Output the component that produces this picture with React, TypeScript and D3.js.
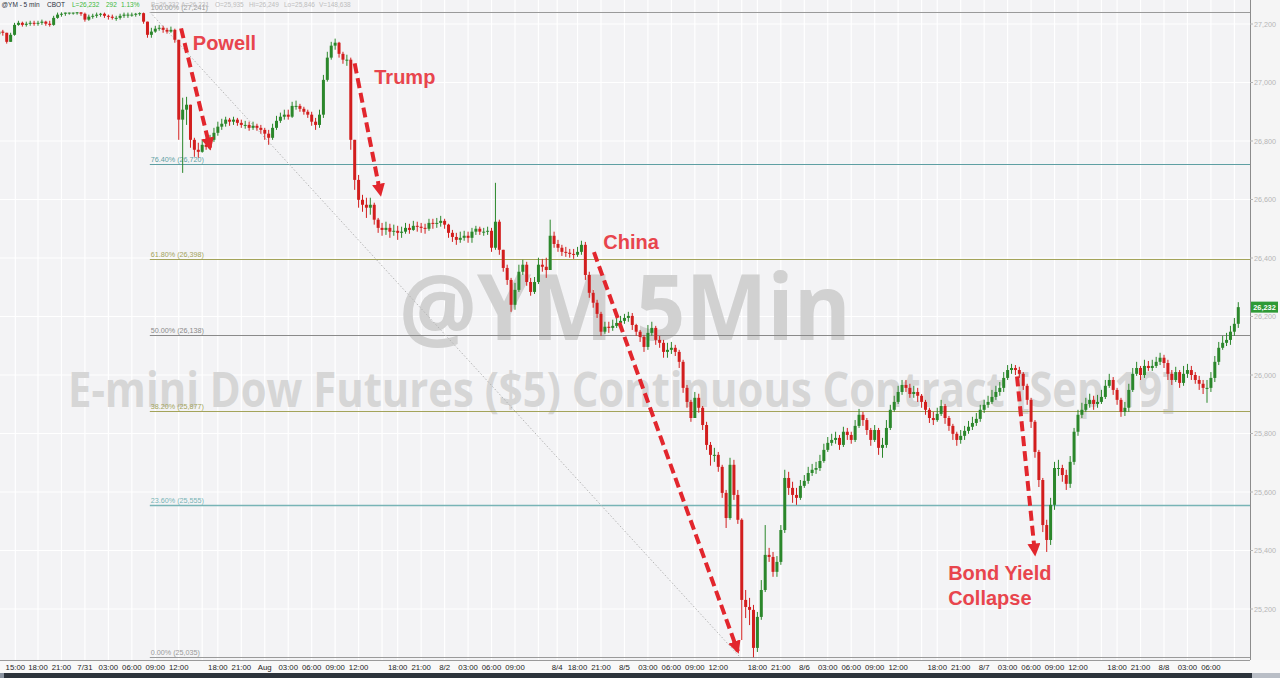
import React from 'react';
import * as d3 from 'd3';

// ---------- DATA (30-minute bars) ----------
const barStartHour = -5; // trading hours relative to 7/30 18:00 mark
const barStepHours = 0.5;
const firstOpen = 27165;

const closes = [
  27174, 27170, 27139, 27163, 27197, 27204, 27197, 27201, 27204, 27201,
  27204, 27208, 27201, 27197, 27221, 27232, 27235, 27239, 27239, 27239,
  27240, 27235, 27215, 27225, 27228, 27232, 27235, 27228, 27225, 27221,
  27221, 27228, 27232, 27232, 27232, 27235, 27237, 27208, 27163, 27174,
  27184, 27187, 27180, 27174, 27180, 27146, 26873, 26907, 26924, 26804,
  26770, 26763, 26787, 26780, 26804, 26828, 26849, 26859, 26873, 26866,
  26873, 26862, 26855, 26855, 26845, 26852, 26845, 26838, 26825, 26811,
  26845, 26869, 26883, 26890, 26883, 26920, 26920, 26910, 26900, 26890,
  26866, 26855, 26890, 27009, 27085, 27126, 27136, 27098, 27078, 27078,
  26804, 26667, 26599, 26582, 26572, 26582, 26531, 26503, 26496, 26503,
  26490, 26493, 26486, 26490, 26503, 26496, 26510, 26507, 26503, 26500,
  26520, 26517, 26520, 26527, 26514, 26486, 26472, 26462, 26469, 26476,
  26469, 26490, 26500, 26490, 26490, 26493, 26435, 26524, 26428, 26366,
  26325, 26240, 26291, 26353, 26377, 26318, 26284, 26318, 26377, 26370,
  26359, 26476, 26448, 26435, 26421, 26418, 26414, 26411, 26421, 26445,
  26342, 26281, 26247, 26209, 26148, 26165, 26161, 26168, 26178, 26185,
  26195, 26202, 26171, 26148, 26130, 26096, 26144, 26161, 26120, 26110,
  26079, 26086, 26093, 26079, 26045, 25956, 25908, 25853, 25922, 25888,
  25829, 25761, 25727, 25727, 25686, 25597, 25511, 25693, 25590, 25505,
  25231, 25207, 25197, 25067, 25173, 25265, 25385, 25378, 25327, 25361,
  25470, 25648, 25614, 25590, 25580, 25621, 25638, 25665, 25676, 25682,
  25706, 25744, 25768, 25778, 25785, 25761, 25806, 25795, 25778, 25826,
  25864, 25846, 25812, 25778, 25812, 25751, 25761, 25819, 25881, 25908,
  25942, 25966, 25956, 25935, 25942, 25929, 25908, 25881, 25853, 25846,
  25867, 25894, 25853, 25826, 25799, 25778, 25792, 25809, 25823, 25836,
  25850, 25881, 25898, 25908, 25925, 25942, 25956, 25990, 26017, 26024,
  26017, 26004, 25963, 25915, 25840, 25737, 25641, 25487, 25436, 25556,
  25682, 25682, 25658, 25628, 25703, 25806, 25864, 25881, 25901, 25915,
  25901, 25908, 25925, 25963, 25983, 25949, 25915, 25874, 25888, 25949,
  26004, 26024, 26000, 26031, 26024, 26031, 26045, 26059, 26041, 26004,
  25983, 26010, 25973, 26004, 26017, 26000, 25983, 25970, 25956, 25956,
  25990, 26045, 26093, 26110, 26120, 26148, 26175, 26232,
];

const highs = [
  27187, 27180, 27170, 27170, 27204, 27211, 27208, 27208, 27211, 27211,
  27211, 27215, 27211, 27211, 27228, 27239, 27240, 27238, 27238, 27238,
  27241, 27240, 27239, 27232, 27235, 27239, 27238, 27239, 27232, 27232,
  27228, 27235, 27239, 27239, 27239, 27238, 27240, 27239, 27208, 27187,
  27194, 27197, 27194, 27187, 27191, 27184, 27129, 26948, 26951, 26924,
  26811, 26794, 26804, 26804, 26821, 26845, 26866, 26876, 26883, 26879,
  26883, 26879, 26873, 26869, 26866, 26866, 26859, 26855, 26845, 26838,
  26859, 26886, 26897, 26907, 26907, 26934, 26938, 26927, 26917, 26907,
  26900, 26879, 26907, 27026, 27105, 27139, 27150, 27139, 27105, 27095,
  27085, 26787, 26684, 26616, 26606, 26606, 26589, 26537, 26520, 26524,
  26517, 26514, 26510, 26507, 26520, 26517, 26527, 26524, 26520, 26517,
  26534, 26534, 26537, 26544, 26534, 26517, 26496, 26486, 26490, 26493,
  26490, 26503, 26510, 26507, 26503, 26507, 26503, 26657, 26531, 26428,
  26377, 26332, 26315, 26377, 26394, 26387, 26332, 26335, 26401, 26397,
  26401, 26531, 26490, 26462, 26445, 26438, 26431, 26431, 26438, 26459,
  26455, 26353, 26291, 26257, 26216, 26182, 26182, 26189, 26195, 26202,
  26209, 26216, 26212, 26175, 26154, 26137, 26171, 26182, 26168, 26134,
  26120, 26110, 26113, 26103, 26086, 26052, 25966, 25915, 25942, 25936,
  25894, 25840, 25771, 25751, 25737, 25693, 25607, 25717, 25710, 25607,
  25510, 25265, 25238, 25214, 25190, 25299, 25487, 25409, 25395, 25381,
  25487, 25676, 25669, 25635, 25614, 25641, 25658, 25686, 25696, 25703,
  25727, 25765, 25788, 25799, 25806, 25795, 25823, 25819, 25806, 25846,
  25884, 25874, 25853, 25819, 25829, 25819, 25785, 25846, 25898, 25929,
  25963, 25983, 25983, 25970, 25963, 25956, 25935, 25915, 25888, 25874,
  25888, 25915, 25901, 25860, 25833, 25806, 25812, 25826, 25843, 25857,
  25870, 25898, 25915, 25929, 25949, 25963, 25976, 26010, 26034, 26038,
  26034, 26028, 26010, 25970, 25922, 25846, 25744, 25648, 25505, 25580,
  25703, 25710, 25693, 25676, 25723, 25819, 25881, 25905, 25922, 25936,
  25929, 25932, 25949, 25983, 26004, 25993, 25956, 25922, 25908, 25970,
  26024, 26045, 26031, 26052, 26048, 26052, 26062, 26076, 26069, 26052,
  26017, 26028, 26017, 26031, 26038, 26031, 26010, 25997, 25983, 25983,
  26010, 26065, 26113, 26134, 26144, 26168, 26195, 26249,
];

const lows = [
  27160, 27160, 27133, 27139, 27160, 27194, 27191, 27191, 27194, 27194,
  27194, 27197, 27194, 27191, 27194, 27218, 27225, 27228, 27232, 27232,
  27232, 27228, 27208, 27211, 27218, 27221, 27225, 27221, 27215, 27215,
  27211, 27215, 27221, 27221, 27225, 27225, 27228, 27201, 27153, 27153,
  27170, 27177, 27170, 27167, 27170, 27136, 26804, 26691, 26855, 26777,
  26746, 26743, 26760, 26770, 26770, 26797, 26818, 26838, 26849, 26852,
  26855, 26852, 26845, 26842, 26835, 26838, 26835, 26825, 26804, 26787,
  26804, 26838, 26862, 26873, 26873, 26879, 26907, 26900, 26890, 26879,
  26852, 26838, 26845, 26879, 27003, 27078, 27112, 27085, 27064, 27057,
  26770, 26633, 26572, 26558, 26537, 26548, 26514, 26486, 26476, 26479,
  26469, 26476, 26462, 26469, 26483, 26483, 26493, 26490, 26486, 26483,
  26493, 26500, 26503, 26507, 26500, 26469, 26455, 26445, 26452, 26459,
  26452, 26452, 26479, 26479, 26476, 26479, 26421, 26428, 26411, 26353,
  26308, 26216, 26223, 26284, 26342, 26305, 26271, 26277, 26311, 26353,
  26332, 26359, 26435, 26421, 26407, 26404, 26401, 26397, 26404, 26411,
  26325, 26264, 26230, 26195, 26134, 26141, 26144, 26151, 26161, 26168,
  26175, 26182, 26154, 26134, 26113, 26079, 26086, 26134, 26103, 26093,
  26059, 26059, 26072, 26065, 26024, 25939, 25888, 25840, 25853, 25871,
  25812, 25744, 25690, 25703, 25669, 25580, 25477, 25505, 25573, 25491,
  25094, 25169, 25145, 25035, 25053, 25163, 25258, 25361, 25310, 25310,
  25351, 25460, 25590, 25563, 25556, 25573, 25614, 25628, 25655, 25662,
  25672, 25700, 25737, 25758, 25765, 25744, 25754, 25778, 25765, 25771,
  25819, 25826, 25795, 25758, 25771, 25727, 25717, 25751, 25812, 25874,
  25901, 25932, 25942, 25922, 25922, 25908, 25888, 25864, 25836, 25829,
  25840, 25860, 25833, 25809, 25778, 25758, 25765, 25778, 25799, 25812,
  25826, 25840, 25870, 25888, 25901, 25915, 25929, 25942, 25983, 26004,
  26000, 25990, 25949, 25898, 25819, 25717, 25617, 25463, 25395, 25419,
  25539, 25655, 25635, 25607, 25614, 25693, 25792, 25853, 25874, 25888,
  25881, 25888, 25901, 25918, 25956, 25932, 25898, 25857, 25860, 25874,
  25942, 25997, 25983, 25990, 26014, 26014, 26024, 26034, 26024, 25983,
  25966, 25976, 25956, 25963, 25990, 25983, 25970, 25949, 25935, 25905,
  25942, 25976, 26034, 26086, 26099, 26103, 26134, 26161,
];

const priceTicks = [25200, 25400, 25600, 25800, 26000, 26200, 26400, 26600, 26800, 27000, 27200];

// time ticks: [trading hour position, label]  ("" = gridline only)
const timeTicks: [number, string][] = [
  [-2.9, '15:00'], [0, '18:00'], [3, '21:00'], [6, '7/31'], [9, '03:00'], [12, '06:00'], [15, '09:00'], [18, '12:00'], [21, ''],
  [23, '18:00'], [26, '21:00'], [29, 'Aug'], [32, '03:00'], [35, '06:00'], [38, '09:00'], [41, '12:00'], [44, ''],
  [46, '18:00'], [49, '21:00'], [52, '8/2'], [55, '03:00'], [58, '06:00'], [61, '09:00'], [64, ''], [66.4, '8/4'],
  [69, '18:00'], [72, '21:00'], [75, '8/5'], [78, '03:00'], [81, '06:00'], [84, '09:00'], [87, '12:00'], [90, ''],
  [92, '18:00'], [95, '21:00'], [98, '8/6'], [101, '03:00'], [104, '06:00'], [107, '09:00'], [110, '12:00'], [113, ''],
  [115, '18:00'], [118, '21:00'], [121, '8/7'], [124, '03:00'], [127, '06:00'], [130, '09:00'], [133, '12:00'], [136, ''],
  [138, '18:00'], [141, '21:00'], [144, '8/8'], [147, '03:00'], [150, '06:00'], [153, ''],
];

const fibPercents = ['100.00%', '76.40%', '61.80%', '50.00%', '38.20%', '23.60%', '0.00%'];
const fibValues = [27241, 26720, 26398, 26138, 25877, 25555, 25035];
const fibAnchorHours = [14.3, 89.8];

const lastPrice = 26232;

const annotationTexts = ['Powell', 'Trump', 'China', 'Bond Yield', 'Collapse'];
const annotationHours = [19.8, 43.0, 72.3, 116.4, 116.4];
const annotationPrices = [27111, 26995, 26431, 25299, 25214];

// arrows: [startHour, startPrice, endHour, endPrice]
const arrows: [number, number, number, number][] = [
  [18.3, 27185, 22.0, 26776],
  [40.5, 27065, 43.8, 26618],
  [71.1, 26420, 89.5, 25055],
  [125.2, 25995, 127.5, 25388],
];

const headerParts = [
  { text: '@YM - 5 min', kind: 'sym' },
  { text: 'CBOT', kind: 'sym' },
  { text: 'L=26,232', kind: 'up' },
  { text: '292', kind: 'up' },
  { text: '1.13%', kind: 'up' },
  { text: 'B=26,232', kind: 'mute' },
  { text: 'A=26,231', kind: 'mute' },
  { text: 'O=25,935', kind: 'mute' },
  { text: 'Hi=26,249', kind: 'mute' },
  { text: 'Lo=25,846', kind: 'mute' },
  { text: 'V=148,638', kind: 'mute' },
];

// ---------- COMPONENT ----------
const W = 1280;
const H = 678;
const PLOT_R = 1250;
const PLOT_B = 660;
const FONT = '"Liberation Sans", Arial, sans-serif';

const fibColors: Record<string, string> = {
  '100.00%': '#9a9a9a',
  '76.40%': '#5e9fa3',
  '61.80%': '#a3a35a',
  '50.00%': '#8a8a8a',
  '38.20%': '#a3a35a',
  '23.60%': '#78b4b6',
  '0.00%': '#9a9a9a',
};

export default function App() {
  const x = d3.scaleLinear().domain([0, 144]).range([38, 1164]);
  const y = d3.scaleLinear().domain([26000, 27200]).range([375, 24]);

  const bars = closes.map((c, i) => {
    const o = i === 0 ? firstOpen : closes[i - 1];
    const h = Math.max(highs[i], o, c);
    const l = Math.min(lows[i], o, c);
    const t = barStartHour + i * barStepHours;
    return { o, h, l, c, t, up: c >= o };
  });

  const green = '#2b872b';
  const red = '#d21e1e';
  const redText = '#e8454d';
  const arrowRed = '#e2262d';

  const fibX0 = x(fibAnchorHours[0]);

  const headerX = [1.5, 47, 72, 106, 121, 151, 181, 215, 249, 284, 319];
  const headerColor: Record<string, string> = { sym: '#2a3140', up: '#3cb83c', mute: '#bdbdbd' };

  return (
    <div style={{ width: W, height: H, overflow: 'hidden' }}>
      <style>{`body{margin:0;padding:0;}`}</style>
      <svg width={W} height={H} style={{ display: 'block', fontFamily: FONT }}>
        <defs>
          <clipPath id="plotClip">
            <rect x={0} y={0} width={PLOT_R} height={PLOT_B} />
          </clipPath>
          <marker id="arrowHead" viewBox="0 0 10 10" refX="8" refY="5" markerWidth="13" markerHeight="13"
            markerUnits="userSpaceOnUse" orient="auto">
            <path d="M0,0 L10,5 L0,10 z" fill={arrowRed} />
          </marker>
        </defs>

        {/* background */}
        <rect x={0} y={0} width={W} height={H} fill="#f3f3f5" />
        <rect x={PLOT_R} y={0} width={W - PLOT_R} height={PLOT_B} fill="#f5f5f5" />

        {/* grid */}
        <g clipPath="url(#plotClip)">
          {timeTicks.map(([t], i) => (
            <line key={'vg' + i} x1={x(t)} x2={x(t)} y1={0} y2={PLOT_B} stroke="#ffffff" strokeWidth={1.2} />
          ))}
          {priceTicks.map((p, i) => (
            <line key={'hg' + i} x1={0} x2={PLOT_R} y1={y(p)} y2={y(p)} stroke="#ffffff" strokeWidth={1.2} />
          ))}
        </g>

        {/* watermark */}
        <text x={625} y={340} textAnchor="middle" fontFamily='"Open Sans", "DejaVu Sans", sans-serif'
          fontWeight={700} fontSize={92} fill="#d1d1d1" textLength={452} lengthAdjust="spacingAndGlyphs">
          @YM 5Min
        </text>
        <text x={622} y={407} textAnchor="middle" fontFamily='"Open Sans", "DejaVu Sans", sans-serif'
          fontWeight={700} fontSize={48} fill="#d6d6d6" textLength={1108} lengthAdjust="spacingAndGlyphs">
          E-mini Dow Futures ($5) Continuous Contract [Sep 19]
        </text>

        {/* fib levels */}
        <g clipPath="url(#plotClip)">
          {fibValues.map((v, i) => {
            const col = fibColors[fibPercents[i]];
            const yy = Math.round(y(v)) + 0.5;
            return (
              <g key={'fib' + i}>
                <line x1={fibX0} x2={PLOT_R} y1={yy} y2={yy} stroke={col} strokeWidth={i === 5 ? 1.6 : 1.1} />
                <text x={fibX0 + 1} y={yy - 2.5} fontSize={7.2} fill={col}>
                  {`${fibPercents[i]} (${d3.format(',')(v)})`}
                </text>
              </g>
            );
          })}
          <line x1={x(fibAnchorHours[0])} y1={y(fibValues[0])} x2={x(fibAnchorHours[1])}
            y2={y(fibValues[fibValues.length - 1])} stroke="#b5b5b5" strokeWidth={1} strokeDasharray="1.5 2" />
        </g>

        {/* candles */}
        <g clipPath="url(#plotClip)">
          {bars.map((b, i) => {
            const cx = x(b.t);
            const col = b.up ? green : red;
            const yTop = y(Math.max(b.o, b.c));
            const yBot = y(Math.min(b.o, b.c));
            return (
              <g key={'bar' + i}>
                <line x1={cx} x2={cx} y1={y(b.h)} y2={y(b.l)} stroke={col} strokeWidth={1} />
                <rect x={cx - 1.5} y={yTop} width={3} height={Math.max(1, yBot - yTop)} fill={col} />
              </g>
            );
          })}
        </g>

        {/* right axis */}
        <line x1={PLOT_R + 0.5} x2={PLOT_R + 0.5} y1={0} y2={PLOT_B} stroke="#8c8c8c" strokeWidth={1} />
        {priceTicks.map((p, i) => (
          <g key={'pt' + i}>
            <line x1={PLOT_R} x2={PLOT_R + 3} y1={y(p)} y2={y(p)} stroke="#b5b5b5" />
            <text x={PLOT_R + 4} y={y(p)} dy="0.35em" fontSize={7.2} fill="#b5b5b5">
              {d3.format(',')(p)}
            </text>
          </g>
        ))}
        <rect x={PLOT_R + 1} y={y(lastPrice) - 5.5} width={27} height={11} fill="#2e9a36" />
        <text x={PLOT_R + 14.5} y={y(lastPrice)} dy="0.35em" textAnchor="middle" fontSize={7.4}
          fontWeight={700} fill="#ffffff">
          {d3.format(',')(lastPrice)}
        </text>

        {/* bottom axis */}
        <rect x={0} y={PLOT_B} width={W} height={H - PLOT_B} fill="#f8f8f8" />
        <line x1={0} x2={PLOT_R} y1={PLOT_B + 0.5} y2={PLOT_B + 0.5} stroke="#9a9a9a" />
        {timeTicks.filter(([, l]) => l !== '').map(([t, l], i) => (
          <text key={'tt' + i} x={x(t)} y={PLOT_B + 10} textAnchor="middle" fontSize={7.8} fill="#1e1e1e">
            {l}
          </text>
        ))}
        <rect x={0} y={673} width={W} height={5} fill="#2c333b" />
        <rect x={0} y={673} width={4} height={5} fill="#8a93a0" />
        <rect x={1252} y={673} width={28} height={5} fill="#b9bec6" />

        {/* annotations */}
        {arrows.map(([t1, v1, t2, v2], i) => (
          <line key={'ar' + i} x1={x(t1)} y1={y(v1)} x2={x(t2)} y2={y(v2)} stroke={arrowRed} strokeWidth={4}
            strokeDasharray="10 5" markerEnd="url(#arrowHead)" />
        ))}
        {annotationTexts.map((s, i) => (
          <text key={'an' + i} x={x(annotationHours[i])} y={y(annotationPrices[i])} fontSize={20}
            fontWeight={700} fill={redText}>
            {s}
          </text>
        ))}

        {/* header */}
        {headerParts.map((p, i) => (
          <text key={'hd' + i} x={headerX[i]} y={7} fontSize={6.5} fill={headerColor[p.kind]}>
            {p.text}
          </text>
        ))}
      </svg>
    </div>
  );
}
